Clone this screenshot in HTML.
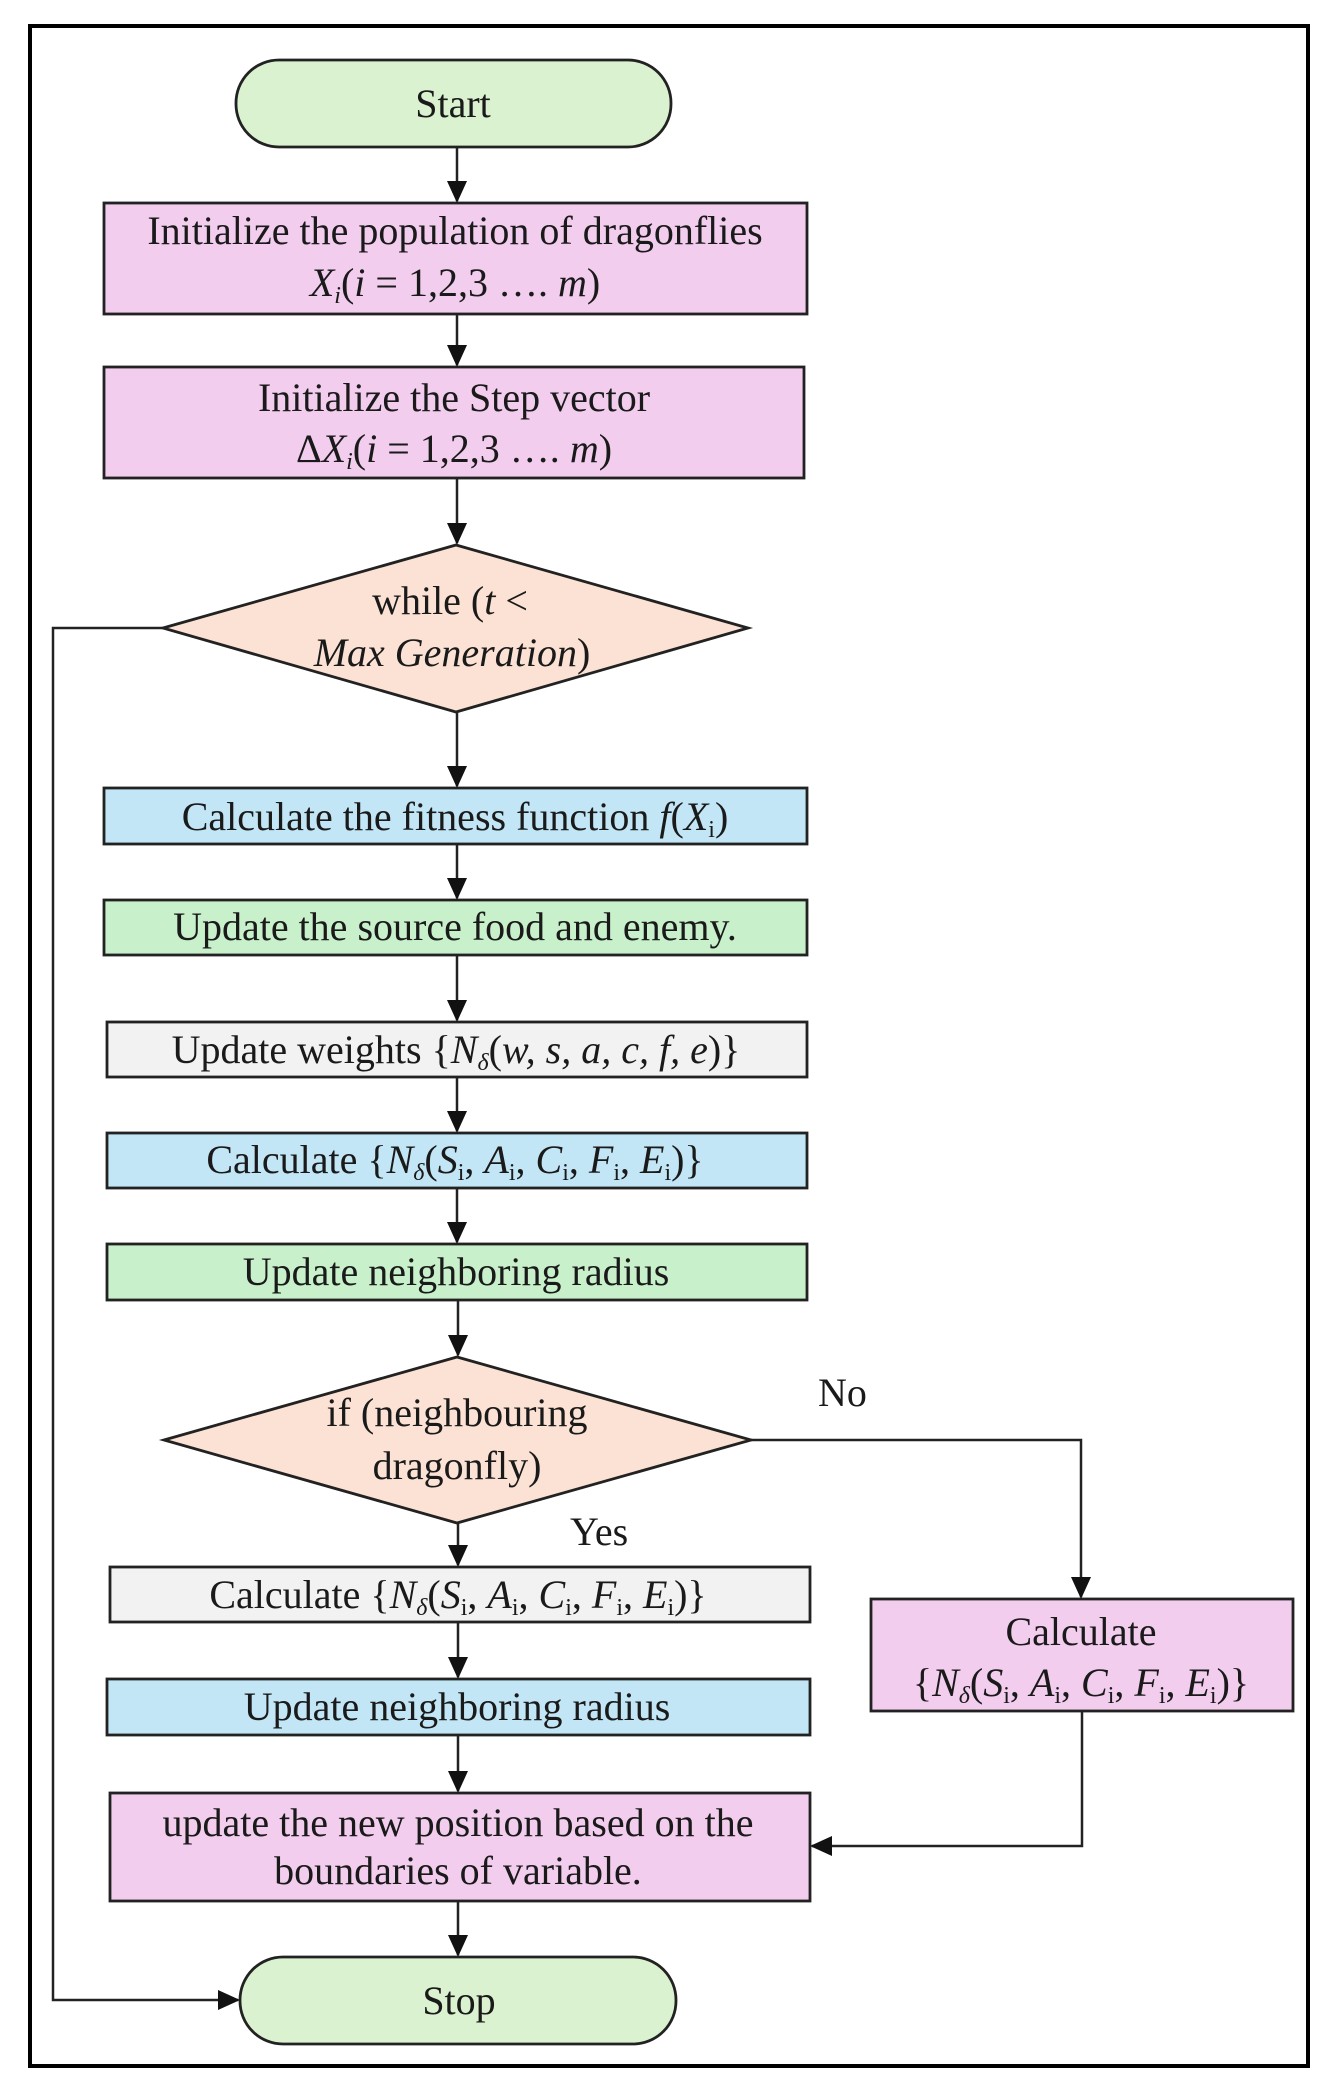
<!DOCTYPE html>
<html><head><meta charset="utf-8"><style>
html,body{margin:0;padding:0;background:#fff;}
svg{display:block;}
text{font-family:"Liberation Serif",serif;font-size:40px;fill:#1a1a1a;}
.i{font-style:italic;}
</style></head><body>
<svg width="1336" height="2095" viewBox="0 0 1336 2095" xmlns="http://www.w3.org/2000/svg">
<defs>
<marker id="b" markerWidth="22" markerHeight="24" refX="20" refY="12" orient="auto" markerUnits="userSpaceOnUse" viewBox="0 0 22 24"><path d="M0,2 L22,12 L0,22 z" fill="#111"/></marker></defs>
<rect x="30" y="26" width="1278" height="2040" fill="none" stroke="#000" stroke-width="4"/>
<g stroke="#222" stroke-width="2.8">
<rect x="236" y="60" width="435" height="87" rx="43" fill="#daf2d0"/>
<rect x="104" y="203" width="703" height="111" fill="#f2cdee"/>
<rect x="104" y="367" width="700" height="111" fill="#f2cdee"/>
<polygon points="163,628 456,545 748,628 456,712" fill="#fbe2d4"/>
<rect x="104" y="788" width="703" height="56" fill="#c2e6f5"/>
<rect x="104" y="900" width="703" height="55" fill="#c8f1cb"/>
<rect x="107" y="1022" width="700" height="55" fill="#f2f2f2"/>
<rect x="107" y="1133" width="700" height="55" fill="#c2e6f5"/>
<rect x="107" y="1244" width="700" height="56" fill="#c8f1cb"/>
<polygon points="164,1440 457,1357 751,1440 457,1523" fill="#fbe2d4"/>
<rect x="110" y="1567" width="700" height="55" fill="#f2f2f2"/>
<rect x="107" y="1679" width="703" height="56" fill="#c2e6f5"/>
<rect x="110" y="1793" width="700" height="108" fill="#f2cdee"/>
<rect x="871" y="1599" width="422" height="112" fill="#f2cdee"/>
<rect x="240" y="1957" width="436" height="87" rx="43" fill="#daf2d0"/>
</g>
<g stroke="#222" stroke-width="2.5" fill="none">
<line x1="457" y1="147" x2="457" y2="201" marker-end="url(#b)"/>
<line x1="457" y1="314" x2="457" y2="365" marker-end="url(#b)"/>
<line x1="457" y1="478" x2="457" y2="543" marker-end="url(#b)"/>
<line x1="457" y1="712" x2="457" y2="786" marker-end="url(#b)"/>
<line x1="457" y1="844" x2="457" y2="898" marker-end="url(#b)"/>
<line x1="457" y1="955" x2="457" y2="1020" marker-end="url(#b)"/>
<line x1="457" y1="1077" x2="457" y2="1131" marker-end="url(#b)"/>
<line x1="457" y1="1188" x2="457" y2="1242" marker-end="url(#b)"/>
<line x1="458" y1="1300" x2="458" y2="1355" marker-end="url(#b)"/>
<line x1="458" y1="1523" x2="458" y2="1565" marker-end="url(#b)"/>
<line x1="458" y1="1622" x2="458" y2="1677" marker-end="url(#b)"/>
<line x1="458" y1="1735" x2="458" y2="1791" marker-end="url(#b)"/>
<line x1="458" y1="1901" x2="458" y2="1955" marker-end="url(#b)"/>
<polyline points="163,628 53,628 53,2000 238,2000" marker-end="url(#b)"/>
<polyline points="751,1440 1081,1440 1081,1597" marker-end="url(#b)"/>
<polyline points="1082,1711 1082,1846 812,1846" marker-end="url(#b)"/>
</g>
<g text-anchor="middle">
<text x="453" y="117">Start</text>
<text x="455" y="244">Initialize the population of dragonflies</text>
<text x="455" y="296" class="i">X<tspan font-size="24" dy="7">i</tspan><tspan dy="-7" font-style="normal">(</tspan>i<tspan font-style="normal"> = 1,2,3 …. </tspan>m<tspan font-style="normal">)</tspan></text>
<text x="454" y="411">Initialize the Step vector</text>
<text x="454" y="462">Δ<tspan class="i">X</tspan><tspan font-size="24" dy="7" class="i">i</tspan><tspan dy="-7">(</tspan><tspan class="i">i</tspan> = 1,2,3 …. <tspan class="i">m</tspan>)</text>
<text x="450" y="614">while (<tspan class="i">t</tspan> &lt;</text>
<text x="452" y="666" class="i">Max Generation<tspan font-style="normal">)</tspan></text>
<text x="455" y="830">Calculate the fitness function <tspan class="i">f</tspan>(<tspan class="i">X</tspan><tspan font-size="24" dy="7">i</tspan><tspan dy="-7">)</tspan></text>
<text x="455" y="940">Update the source food and enemy.</text>
<text x="456" y="1063">Update weights {<tspan class="i">N</tspan><tspan font-size="24" dy="7" class="i">δ</tspan><tspan dy="-7">(</tspan><tspan class="i">w, s, a, c, f, e</tspan>)}</text>
<text x="455" y="1173">Calculate {<tspan class="i">N</tspan><tspan font-size="24" dy="7" class="i">δ</tspan><tspan dy="-7">(</tspan><tspan class="i">S</tspan><tspan font-size="24" dy="7">i</tspan><tspan dy="-7">, </tspan><tspan class="i">A</tspan><tspan font-size="24" dy="7">i</tspan><tspan dy="-7">, </tspan><tspan class="i">C</tspan><tspan font-size="24" dy="7">i</tspan><tspan dy="-7">, </tspan><tspan class="i">F</tspan><tspan font-size="24" dy="7">i</tspan><tspan dy="-7">, </tspan><tspan class="i">E</tspan><tspan font-size="24" dy="7">i</tspan><tspan dy="-7">)}</tspan></text>
<text x="456" y="1285">Update neighboring radius</text>
<text x="457" y="1426">if (neighbouring</text>
<text x="457" y="1479">dragonfly)</text>
<text x="458" y="1608">Calculate {<tspan class="i">N</tspan><tspan font-size="24" dy="7" class="i">δ</tspan><tspan dy="-7">(</tspan><tspan class="i">S</tspan><tspan font-size="24" dy="7">i</tspan><tspan dy="-7">, </tspan><tspan class="i">A</tspan><tspan font-size="24" dy="7">i</tspan><tspan dy="-7">, </tspan><tspan class="i">C</tspan><tspan font-size="24" dy="7">i</tspan><tspan dy="-7">, </tspan><tspan class="i">F</tspan><tspan font-size="24" dy="7">i</tspan><tspan dy="-7">, </tspan><tspan class="i">E</tspan><tspan font-size="24" dy="7">i</tspan><tspan dy="-7">)}</tspan></text>
<text x="457" y="1720">Update neighboring radius</text>
<text x="458" y="1836">update the new position based on the</text>
<text x="458" y="1884">boundaries of variable.</text>
<text x="1081" y="1645">Calculate</text>
<text x="1081" y="1696">{<tspan class="i">N</tspan><tspan font-size="24" dy="7" class="i">δ</tspan><tspan dy="-7">(</tspan><tspan class="i">S</tspan><tspan font-size="24" dy="7">i</tspan><tspan dy="-7">, </tspan><tspan class="i">A</tspan><tspan font-size="24" dy="7">i</tspan><tspan dy="-7">, </tspan><tspan class="i">C</tspan><tspan font-size="24" dy="7">i</tspan><tspan dy="-7">, </tspan><tspan class="i">F</tspan><tspan font-size="24" dy="7">i</tspan><tspan dy="-7">, </tspan><tspan class="i">E</tspan><tspan font-size="24" dy="7">i</tspan><tspan dy="-7">)}</tspan></text>
<text x="459" y="2014">Stop</text>
</g>
<text x="818" y="1406">No</text>
<text x="570" y="1545">Yes</text>
</svg>
</body></html>
